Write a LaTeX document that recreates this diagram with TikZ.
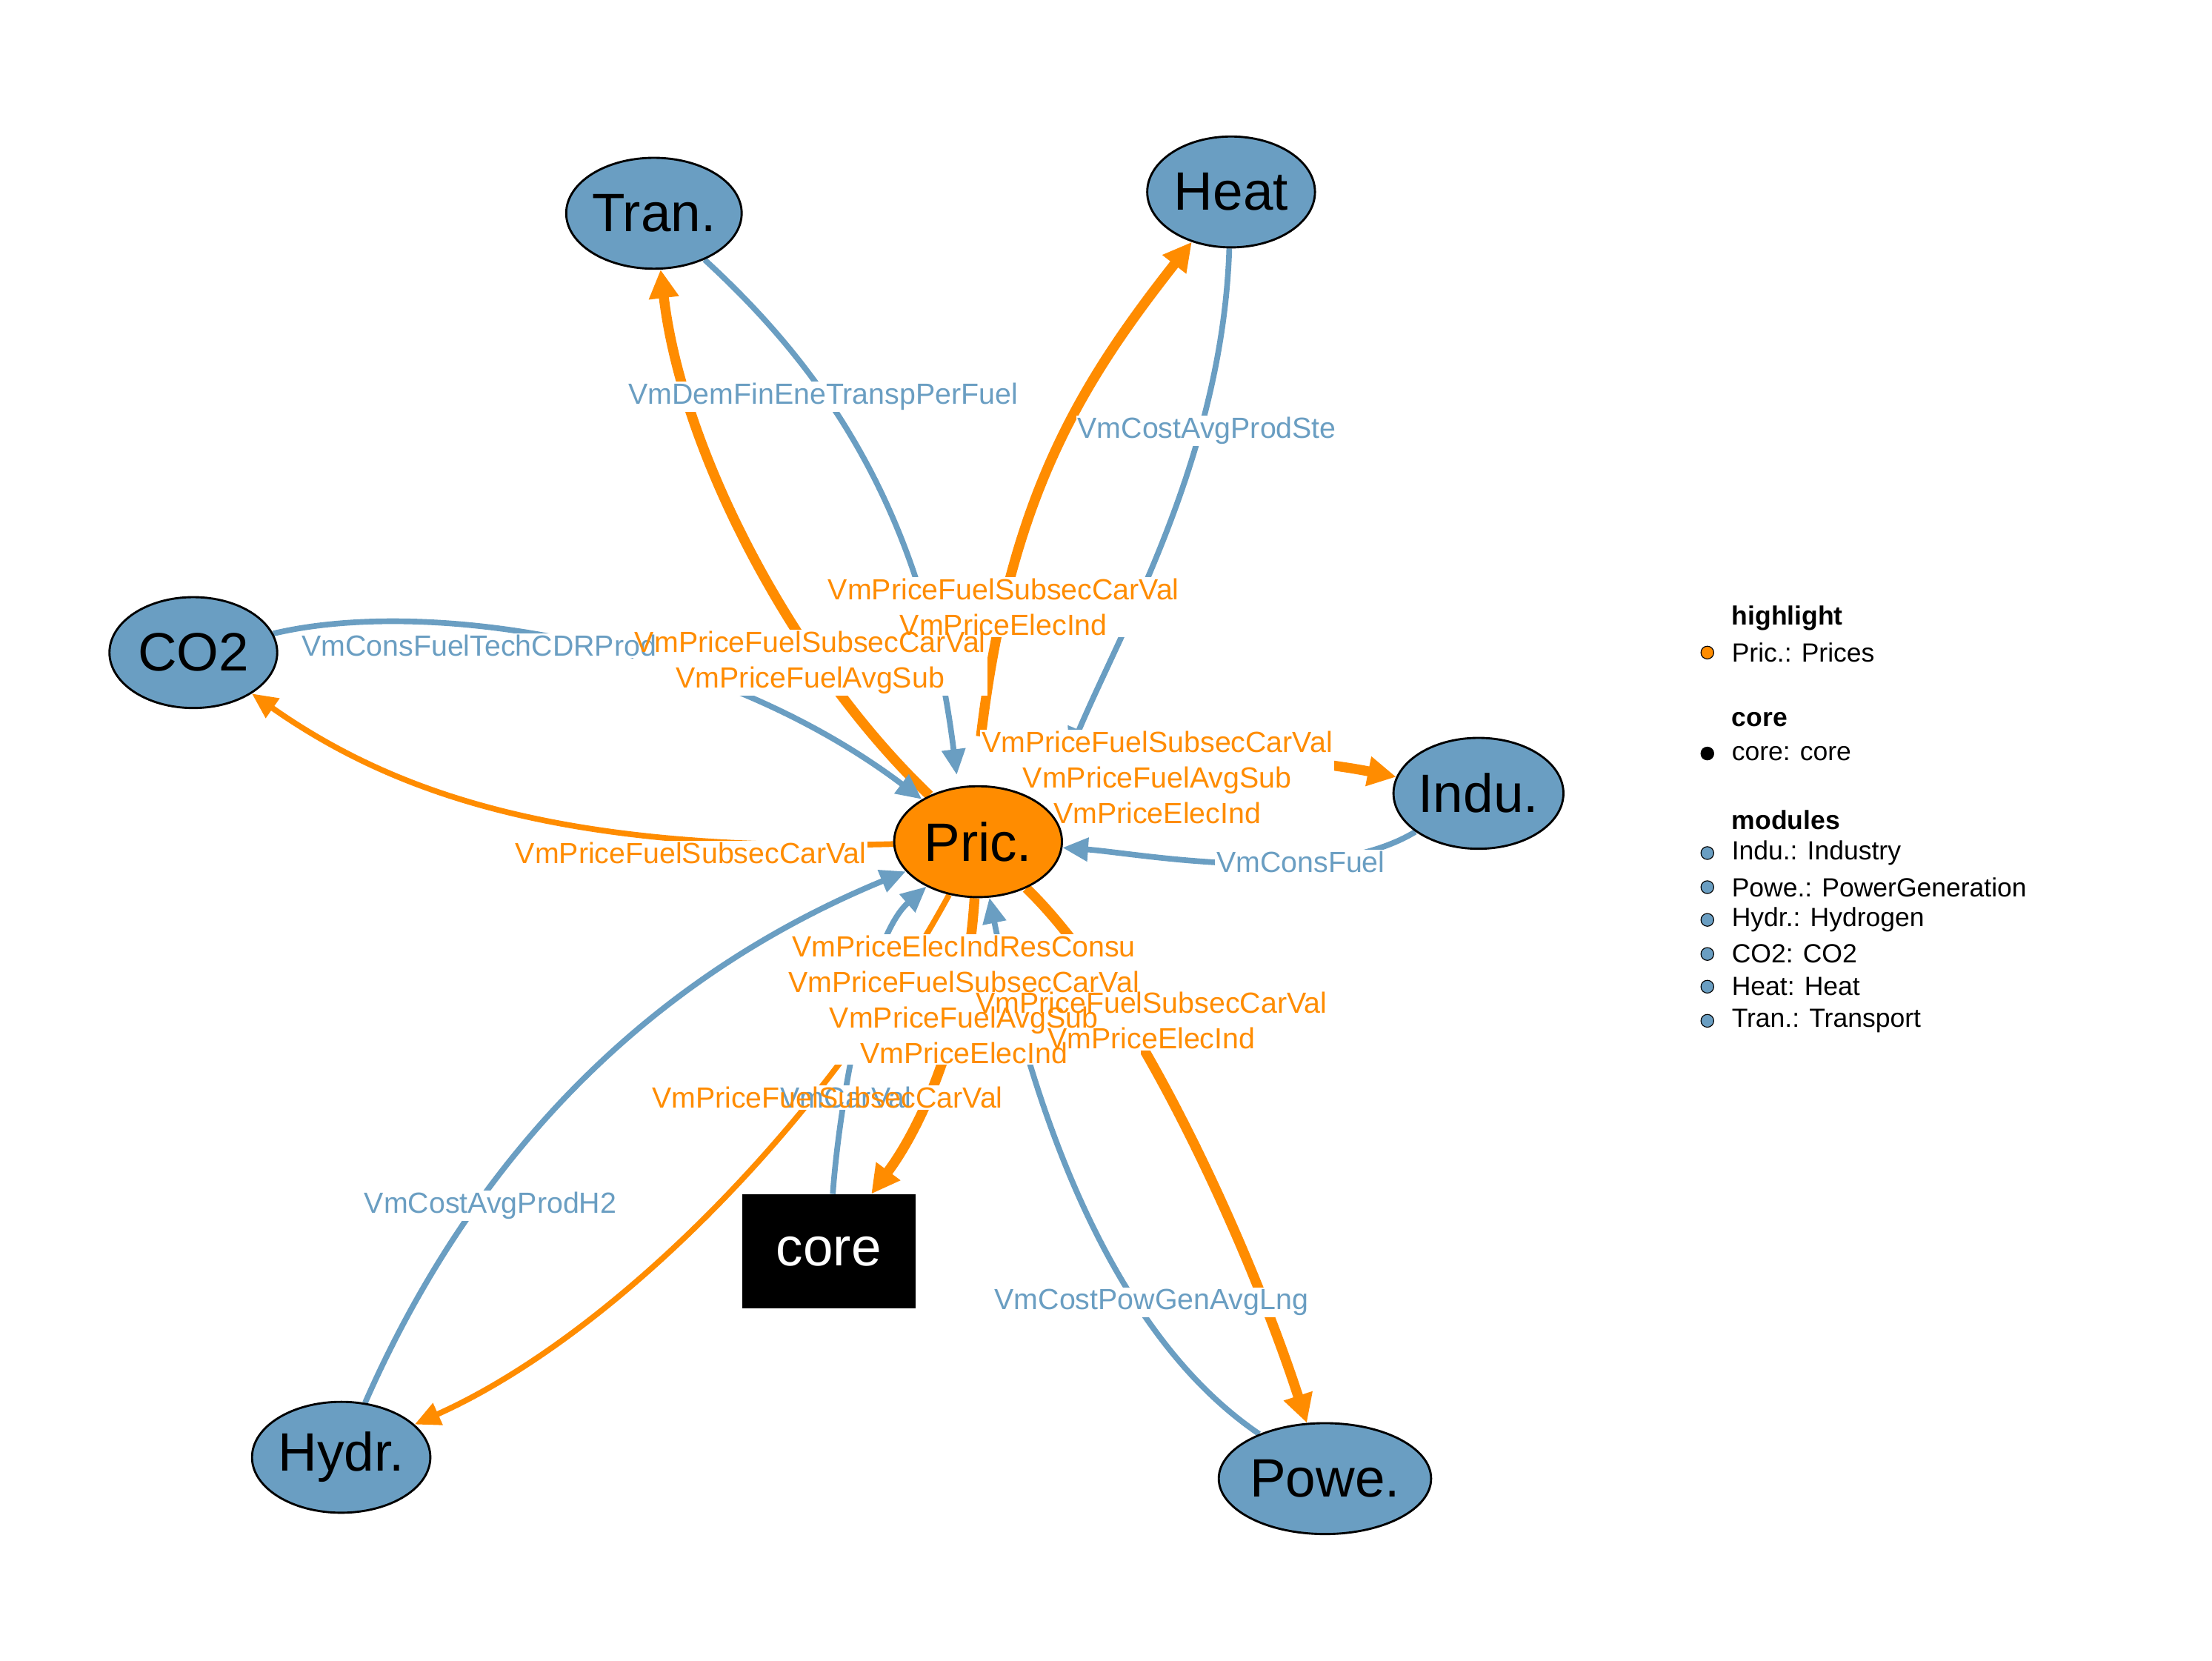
\documentclass[tikz,border=0pt]{standalone}
\usepackage{fontspec}
\setmainfont{Liberation Sans}
\usetikzlibrary{shapes.geometric,arrows.meta}
\definecolor{bl}{HTML}{6A9EC2}
\definecolor{or}{HTML}{FF8C00}
\pgfdeclarelayer{lbg}\pgfdeclarelayer{ltx}
\pgfsetlayers{main,lbg,ltx}
\newcommand\lbl[4]{%
\begin{pgfonlayer}{lbg}\node[lab,fill=white,text opacity=0] (#1b) at (#2) {#4};\end{pgfonlayer}
\begin{pgfonlayer}{ltx}\node[lab,text=#3] (#1) at (#2) {#4};\end{pgfonlayer}}
\begin{document}
\begin{tikzpicture}[x=1pt,y=-1pt,
  mod/.style={ellipse,draw=black,line width=1.5pt,fill=bl,inner sep=0pt,minimum width=118pt,minimum height=78pt,font=\fontsize{38}{40}\selectfont},
  lab/.style={inner sep=1pt,align=center,font=\fontsize{20.5}{25}\selectfont},
  be/.style={draw=bl,line width=4pt,-{Triangle[length=18pt,width=16pt]}},
  oe/.style={draw=or,line width=4pt,-{Triangle[length=18pt,width=16pt]}},
  ot/.style={draw=or,line width=7pt,-{Triangle[length=20pt,width=20pt]}},
  lg/.style={anchor=west,inner sep=0pt,font=\fontsize{18.5}{20}\selectfont},
  dot/.style={circle,draw=black,line width=0.6pt,minimum size=9pt,inner sep=0pt}]
\useasboundingbox (0,0) rectangle (1556,1168);
\begin{pgfonlayer}{ltx}
\node[mod] (tran) at (460,150) {Tran.};
\node[mod] (heat) at (866,135) {Heat};
\node[mod] (co2) at (136,459) {CO2};
\node[mod] (indu) at (1040,558) {Indu.};
\node[mod,fill=or] (pric) at (688,592) {Pric.};
\node[mod] (hydr) at (240,1025) {Hydr.};
\node[mod] (powe) at (932,1040) {Powe.};
\node[fill=black,text=white,minimum width=122pt,minimum height=80pt,inner sep=0pt,font=\fontsize{38}{40}\selectfont] (core) at (583,880) {core};
\end{pgfonlayer}
% edges
\draw[be] (tran) .. controls (580,260) and (650,360) .. (673,545);
\draw[ot] (pric) .. controls (560,470) and (480,320) .. (tran);
\draw[be] (heat) .. controls (860,320) and (790,440) .. (752,530);
\draw[ot] (690,518) .. controls (710,350) and (760,270) .. (heat);
\draw[be] (co2) .. controls (300,420) and (500,450) .. (pric);
\draw[oe] (pric) .. controls (400,600) and (280,560) .. (co2);
\draw[ot] (690,520) .. controls (760,525) and (900,530) .. (indu);
\draw[be] (indu) .. controls (930,625) and (800,600) .. (pric);
\draw[ot] (pric) .. controls (800,700) and (880,880) .. (powe);
\draw[be] (powe) .. controls (770,930) and (720,750) .. (pric);
\draw[be] (hydr) .. controls (330,820) and (450,690) .. (pric);
\draw[oe] (pric) .. controls (580,790) and (430,940) .. (hydr);
\draw[be] (core) .. controls (590,780) and (610,660) .. (pric);
\draw[ot] (pric) .. controls (680,720) and (650,790) .. (core);
% labels
\lbl{l1}{579,279}{bl}{VmDemFinEneTranspPerFuel}
\lbl{l2}{849,303}{bl}{VmCostAvgProdSte}
\lbl{l3}{706,427}{or}{VmPriceFuelSubsecCarVal\\VmPriceElecInd}
\lbl{l4}{337,454}{bl}{VmConsFuelTechCDRProd}
\lbl{l5}{570,466}{or}{VmPriceFuelSubsecCarVal\\VmPriceFuelAvgSub}
\lbl{l6}{814,547}{or}{VmPriceFuelSubsecCarVal\\VmPriceFuelAvgSub\\VmPriceElecInd}
\lbl{l7}{486,600}{or}{VmPriceFuelSubsecCarVal}
\lbl{l8}{915,606}{bl}{VmConsFuel}
\lbl{l9}{678,703}{or}{VmPriceElecIndResConsu\\VmPriceFuelSubsecCarVal\\VmPriceFuelAvgSub\\VmPriceElecInd}
\lbl{l10}{810,718}{or}{VmPriceFuelSubsecCarVal\\VmPriceElecInd}
\lbl{l11}{595,772}{bl}{VmCarVal}
\lbl{l12}{582,772}{or}{VmPriceFuelSubsecCarVal}
\lbl{l13}{345,848}{bl}{VmCostAvgProdH2}
\lbl{l14}{810,916}{bl}{VmCostPowGenAvgLng}
% legend
\node[lg,font=\fontsize{18.5}{20}\selectfont\bfseries] (h1) at (1218,435) {highlight};
\node[dot,fill=or] (d1) at (1201,459) {}; \node[lg] (t1) at (1218,459) {Pric.: Prices};
\node[lg,font=\fontsize{18.5}{20}\selectfont\bfseries] (h2) at (1218,506) {core};
\node[dot,fill=black] (d2) at (1201,530) {}; \node[lg] (t2) at (1218,530) {core: core};
\node[lg,font=\fontsize{18.5}{20}\selectfont\bfseries] (h3) at (1218,577) {modules};
\node[dot,fill=bl] (d3) at (1201,600) {}; \node[lg] (t3) at (1218,600) {Indu.: Industry};
\node[dot,fill=bl] (d4) at (1201,624) {}; \node[lg] (t4) at (1218,624) {Powe.: PowerGeneration};
\node[dot,fill=bl] (d5) at (1201,647) {}; \node[lg] (t5) at (1218,647) {Hydr.: Hydrogen};
\node[dot,fill=bl] (d6) at (1201,671) {}; \node[lg] (t6) at (1218,671) {CO2: CO2};
\node[dot,fill=bl] (d7) at (1201,694) {}; \node[lg] (t7) at (1218,694) {Heat: Heat};
\node[dot,fill=bl] (d8) at (1201,718) {}; \node[lg] (t8) at (1218,718) {Tran.: Transport};
\end{tikzpicture}
\end{document}
